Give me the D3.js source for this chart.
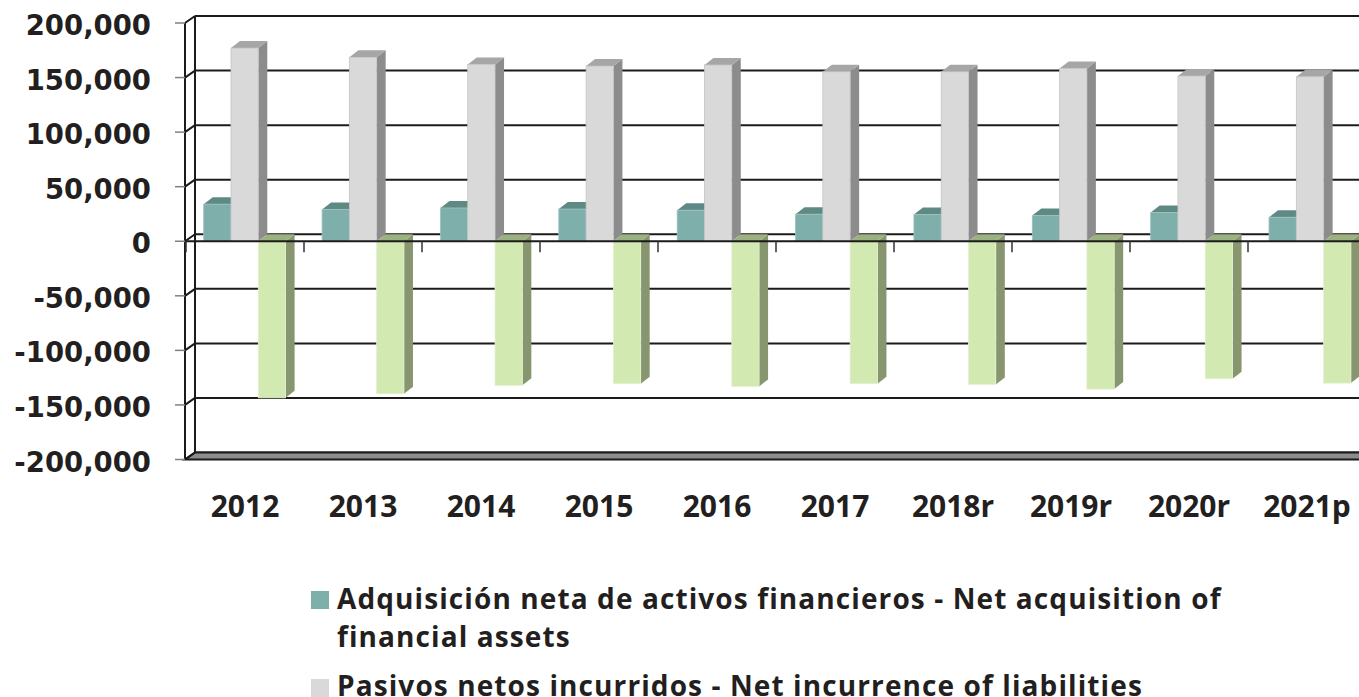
<!DOCTYPE html>
<html>
<head>
<meta charset="utf-8">
<script src="https://cdn.jsdelivr.net/npm/d3@7"></script>
<style>
  html, body { margin: 0; padding: 0; background: #ffffff; overflow: hidden; }
  svg { display: block; }
</style>
</head>
<body>
<svg id="chart" width="1359" height="697"></svg>
<script>
// ---------------- data ----------------
const categories = ["2012", "2013", "2014", "2015", "2016", "2017", "2018r", "2019r", "2020r", "2021p"];
const activos = [34000, 29000, 30500, 29500, 28400, 24800, 24500, 23600, 26300, 22000];
const pasivos = [177000, 168500, 162000, 160500, 161500, 155300, 155300, 158400, 151400, 150700];
const prestamo = [-143500, -139800, -132000, -130500, -133000, -130500, -131200, -135500, -126000, -130000];
const yTicks = [200000, 150000, 100000, 50000, 0, -50000, -100000, -150000, -200000];
const seriesNames = [
  "Adquisición neta de activos financieros - Net acquisition of financial assets",
  "Pasivos netos incurridos - Net incurrence of liabilities",
  "Préstamo neto / Endeudamiento neto - Net lending / Net borrowing"
];
const legendLines = [
  ["Adquisición neta de activos financieros - Net acquisition of", "financial assets"],
  ["Pasivos netos incurridos - Net incurrence of liabilities"]
];

// ---------------- styles ----------------
const seriesStyle = [
  { front: "#7fafab", top: "#5f8985", side: "#5b7f7b", edge: "#9cc3bf" },
  { front: "#d9d9d9", top: "#a6a6a6", side: "#8c8c8c", edge: "#c4c4c4" },
  { front: "#d2e9b1", top: "#9cb182", side: "#87966f", edge: "#e4f1cf" }
];
const seriesData = [activos, pasivos, prestamo];

const svg = d3.select("#chart");
const W = 1359;

const AX_X = 185;      // front plane left axis x
const WDX = 10, WDY = -7;   // wall depth offset
const BDX = 9, BDY = -7;    // bar depth offset

const y = d3.scaleLinear().domain([-200000, 200000]).range([459.5, 23]);

// category label / tick scale (front plane)
const xCat = d3.scaleBand().domain(categories).range([186, 186 + 118 * categories.length]);
// bar position scale (slight perspective drift)
const xBar = d3.scaleBand().domain(categories).range([185.5, 185.5 + 118.37 * categories.length]);
const xSeries = d3.scaleBand().domain(d3.range(3)).range([18.2, 18.2 + 27.3 * 3]);

const gridColor = "#1b1b1b";

// ---------------- back wall gridlines ----------------
const gWall = svg.append("g");
gWall.selectAll("line.grid").data(yTicks).join("line")
  .attr("x1", AX_X + WDX).attr("x2", W + 20)
  .attr("y1", d => y(d) + WDY).attr("y2", d => y(d) + WDY)
  .attr("stroke", gridColor).attr("stroke-width", 2);

// floor
const yb = y(-200000);
gWall.append("polygon")
  .attr("points", [[AX_X, yb], [W + 20, yb], [W + 20 + WDX, yb + WDY], [AX_X + WDX, yb + WDY]].map(p => p.join(",")).join(" "))
  .attr("fill", "#8c8c8c").attr("stroke", gridColor).attr("stroke-width", 2);

// left wall
gWall.append("line").attr("x1", AX_X + WDX).attr("x2", AX_X + WDX)
  .attr("y1", y(200000) + WDY).attr("y2", y(-200000) + WDY)
  .attr("stroke", gridColor).attr("stroke-width", 2);
gWall.selectAll("line.diag").data(yTicks).join("line")
  .attr("x1", AX_X).attr("x2", AX_X + WDX)
  .attr("y1", d => y(d)).attr("y2", d => y(d) + WDY)
  .attr("stroke", gridColor).attr("stroke-width", 2);
gWall.append("line").attr("x1", AX_X).attr("x2", AX_X)
  .attr("y1", y(200000)).attr("y2", y(-200000))
  .attr("stroke", gridColor).attr("stroke-width", 2);

// ---------------- bars ----------------
const gBars = svg.append("g");
function drawBar(x0, w, v, st) {
  const yTop = y(Math.max(0, v)), yBot = y(Math.min(0, v));
  const g = gBars.append("g");
  g.append("polygon")
    .attr("points", [[x0 + w, yTop], [x0 + w + BDX, yTop + BDY], [x0 + w + BDX, yBot + BDY], [x0 + w, yBot]].map(p => p.join(",")).join(" "))
    .attr("fill", st.side);
  g.append("polygon")
    .attr("points", [[x0, yTop], [x0 + BDX, yTop + BDY], [x0 + w + BDX, yTop + BDY], [x0 + w, yTop]].map(p => p.join(",")).join(" "))
    .attr("fill", st.top);
  g.append("rect")
    .attr("x", x0).attr("y", yTop).attr("width", w).attr("height", yBot - yTop)
    .attr("fill", st.front).attr("stroke", st.edge).attr("stroke-width", 0.8);
}
categories.forEach((c, i) => {
  seriesData.forEach((arr, s) => {
    drawBar(xBar(c) + xSeries(s), xSeries.bandwidth(), arr[i], seriesStyle[s]);
  });
});

// ---------------- front axes ----------------
const gAx = svg.append("g");
// category axis line at 0
gAx.append("line").attr("x1", AX_X).attr("x2", W + 20)
  .attr("y1", y(0)).attr("y2", y(0))
  .attr("stroke", gridColor).attr("stroke-width", 2);
// category ticks
const tickXs = categories.map(c => xCat(c)).concat([xCat(categories[categories.length - 1]) + xCat.bandwidth()]);
gAx.selectAll("line.ctick").data(tickXs).join("line")
  .attr("x1", d => d).attr("x2", d => d)
  .attr("y1", y(0)).attr("y2", y(0) + 11)
  .attr("stroke", "#333").attr("stroke-width", 1.5);
// value ticks
gAx.selectAll("line.vtick").data(yTicks).join("line")
  .attr("x1", AX_X - 10).attr("x2", AX_X)
  .attr("y1", d => y(d)).attr("y2", d => y(d))
  .attr("stroke", "#808080").attr("stroke-width", 1.5);

const fmt = d => d3.format(",")(d).replace("\u2212", "-");
gAx.selectAll("text.ylab").data(yTicks).join("text")
  .attr("x", 151).attr("y", d => y(d) + 12)
  .attr("text-anchor", "end")
  .attr("font-family", "'DejaVu Sans', sans-serif").attr("font-weight", "bold")
  .attr("font-size", 27.5).attr("fill", "#231f20")
  .text(d => fmt(d));

gAx.selectAll("text.xlab").data(categories).join("text")
  .attr("x", d => xCat(d) + xCat.bandwidth() / 2).attr("y", 517)
  .attr("text-anchor", "middle")
  .attr("font-family", "'Open Sans', sans-serif").attr("font-weight", "bold")
  .attr("font-size", 30).attr("fill", "#231f20")
  .text(d => d);

// ---------------- legend ----------------
const gLeg = svg.append("g");
const legTop = [591, 679];
const lineBase = [[609, 647], [696]];
legendLines.forEach((lines, i) => {
  gLeg.append("rect").attr("x", 311).attr("y", legTop[i]).attr("width", 18).attr("height", 18)
    .attr("fill", seriesStyle[i].front);
  lines.forEach((t, j) => {
    gLeg.append("text").attr("x", 337).attr("y", lineBase[i][j])
      .attr("font-family", "'Open Sans', sans-serif").attr("font-weight", "bold")
      .attr("font-size", 28).attr("letter-spacing", 1.1).attr("fill", "#231f20")
      .text(t);
  });
});
</script>
</body>
</html>
